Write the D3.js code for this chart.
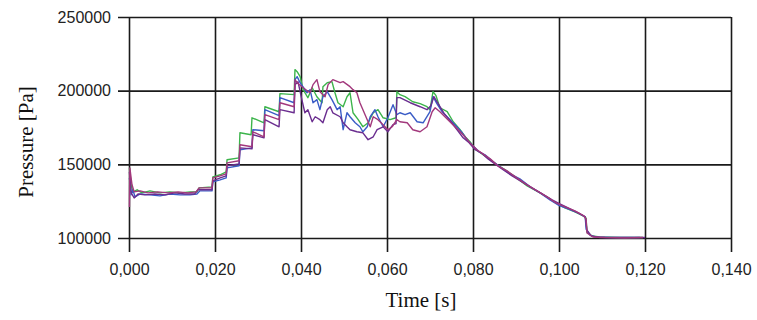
<!DOCTYPE html>
<html><head><meta charset="utf-8">
<script src="https://cdn.jsdelivr.net/npm/d3@7"></script>
<style>body{margin:0;background:#fff}svg{display:block}</style>
</head><body>
<svg id="c" width="757" height="320"></svg>
<script>
const xTicks = [0, 0.02, 0.04, 0.06, 0.08, 0.10, 0.12, 0.14];
const yTicks = [100000, 150000, 200000, 250000];
const xLabel = "Time [s]";
const yLabel = "Pressure [Pa]";
const seriesNames = ["green", "blue", "purple", "magenta"];
const seriesColors = ["#3cb44b", "#3a5cc6", "#6a2d8f", "#a2387c"];

// [time s, pressure Pa]
const greenData = [[0.0001,147600],[0.0005,136100],[0.0009,131300],[0.0019,132700],[0.0030,130600],[0.0049,132000],[0.0072,130600],[0.0095,131300],[0.0119,130600],[0.0142,131300],[0.0158,131300],[0.0163,134000],[0.0193,134700],[0.0195,141500],[0.0212,142900],[0.0226,144900],[0.0228,153100],[0.0256,154400],[0.0258,171400],[0.0284,170100],[0.0286,181600],[0.0314,178200],[0.0316,189100],[0.0349,185700],[0.0351,198000],[0.0384,197300],[0.0386,214300],[0.0391,212900],[0.0398,209500],[0.0405,200700],[0.0416,195200],[0.0426,202000],[0.0437,195900],[0.0449,191800],[0.0451,202700],[0.0461,205400],[0.0472,206100],[0.0479,198600],[0.0486,191800],[0.0498,189100],[0.0507,195900],[0.0514,198600],[0.0521,185000],[0.0533,180300],[0.0544,175500],[0.0556,178200],[0.0568,185000],[0.0579,187100],[0.0591,181600],[0.0607,180300],[0.0621,181600],[0.0623,199300],[0.0630,197300],[0.0642,195900],[0.0660,192500],[0.0677,191200],[0.0693,189100],[0.0700,187100],[0.0707,199300],[0.0714,196600],[0.0723,188400],[0.0740,185700],[0.0754,178900],[0.0770,173500],[0.0784,168000],[0.0793,165300],[0.0807,159900],[0.0821,157100],[0.0840,153100],[0.0856,149700],[0.0875,146300],[0.0898,141500],[0.0926,135400],[0.0956,130600],[0.0979,126500],[0.0996,123100],[0.1014,120400],[0.1037,117700],[0.1056,115000],[0.1063,113600],[0.1065,104100],[0.1077,101400],[0.1095,100700],[0.1142,100300],[0.1195,100300]];

const blueData = [[0.0001,140800],[0.0005,129300],[0.0009,132700],[0.0014,127900],[0.0026,129900],[0.0049,129300],[0.0072,128600],[0.0095,129900],[0.0119,129300],[0.0142,129300],[0.0158,129900],[0.0165,132000],[0.0193,132000],[0.0195,138100],[0.0212,139500],[0.0226,140800],[0.0228,147600],[0.0256,149000],[0.0258,159900],[0.0286,161200],[0.0288,173500],[0.0314,172800],[0.0316,187100],[0.0349,183000],[0.0351,195300],[0.0384,191800],[0.0386,207500],[0.0391,209500],[0.0398,205400],[0.0414,198600],[0.0421,200700],[0.0428,191800],[0.0437,193900],[0.0444,187100],[0.0451,195900],[0.0461,199300],[0.0472,193900],[0.0484,187100],[0.0491,189100],[0.0498,173500],[0.0507,185000],[0.0514,182300],[0.0526,178200],[0.0537,175500],[0.0544,172100],[0.0554,175500],[0.0561,182300],[0.0572,187100],[0.0579,182300],[0.0591,175500],[0.0602,181600],[0.0614,190500],[0.0623,183700],[0.0630,185000],[0.0642,183700],[0.0654,185000],[0.0670,178900],[0.0684,178200],[0.0700,185700],[0.0707,195900],[0.0716,191200],[0.0728,185700],[0.0742,181600],[0.0758,176900],[0.0775,171400],[0.0788,166000],[0.0800,162600],[0.0814,158500],[0.0828,156500],[0.0844,152400],[0.0863,148300],[0.0886,143500],[0.0909,140100],[0.0933,134700],[0.0956,130600],[0.0979,125900],[0.0998,122400],[0.1021,119700],[0.1044,117000],[0.1061,114300],[0.1063,106100],[0.1072,102000],[0.1084,100700],[0.1119,100300],[0.1188,100300]];

const purpleData = [[0.0001,144900],[0.0005,130600],[0.0012,127200],[0.0021,129900],[0.0037,129300],[0.0060,129900],[0.0084,129300],[0.0107,130600],[0.0130,129900],[0.0153,129900],[0.0160,132700],[0.0193,132700],[0.0195,138800],[0.0212,140800],[0.0226,142200],[0.0228,149000],[0.0256,150300],[0.0258,161200],[0.0286,160500],[0.0288,170100],[0.0314,168000],[0.0316,180300],[0.0349,175500],[0.0351,187100],[0.0384,185000],[0.0386,204100],[0.0393,206100],[0.0402,193900],[0.0409,185000],[0.0416,187100],[0.0426,178900],[0.0433,182300],[0.0444,180300],[0.0451,178200],[0.0461,187100],[0.0468,189100],[0.0474,185000],[0.0491,182300],[0.0498,178200],[0.0507,175500],[0.0514,173500],[0.0530,172100],[0.0544,171400],[0.0556,166700],[0.0568,168700],[0.0577,173500],[0.0591,175500],[0.0602,172100],[0.0614,176900],[0.0621,177600],[0.0623,195300],[0.0630,195300],[0.0654,191800],[0.0677,189100],[0.0693,187100],[0.0702,189800],[0.0709,195900],[0.0719,191200],[0.0733,184400],[0.0747,179600],[0.0763,173500],[0.0777,168000],[0.0791,164600],[0.0805,159900],[0.0819,157800],[0.0835,153700],[0.0851,150300],[0.0870,146300],[0.0891,142200],[0.0914,138100],[0.0937,134000],[0.0961,129900],[0.0984,125900],[0.1002,123100],[0.1026,119700],[0.1049,116300],[0.1061,114300],[0.1065,105400],[0.1075,101400],[0.1095,100300],[0.1165,100300],[0.1200,100300]];

const magentaData = [[0.0001,121100],[0.0002,147600],[0.0007,136100],[0.0012,131300],[0.0026,132000],[0.0044,130600],[0.0067,131300],[0.0091,130600],[0.0114,131300],[0.0137,130600],[0.0156,131300],[0.0163,134000],[0.0193,134000],[0.0195,140800],[0.0212,142200],[0.0226,143500],[0.0228,151000],[0.0256,152400],[0.0258,163300],[0.0286,161900],[0.0288,172100],[0.0314,168700],[0.0316,183700],[0.0349,180300],[0.0351,191800],[0.0384,189100],[0.0386,207500],[0.0391,205400],[0.0405,202000],[0.0421,198600],[0.0428,204100],[0.0437,207500],[0.0444,199300],[0.0456,195900],[0.0463,204100],[0.0474,207500],[0.0491,205400],[0.0498,206100],[0.0514,202700],[0.0521,200700],[0.0530,198600],[0.0537,191800],[0.0544,187100],[0.0554,180300],[0.0561,175500],[0.0568,182300],[0.0579,180300],[0.0591,176900],[0.0602,173500],[0.0612,175500],[0.0623,180300],[0.0630,178900],[0.0647,178200],[0.0660,173500],[0.0677,172100],[0.0693,175500],[0.0705,185700],[0.0712,188400],[0.0723,185700],[0.0737,181600],[0.0751,177600],[0.0768,172800],[0.0781,168700],[0.0795,163900],[0.0809,159900],[0.0823,157100],[0.0840,153700],[0.0858,149000],[0.0879,145600],[0.0902,140800],[0.0926,136100],[0.0949,132000],[0.0972,127900],[0.0993,123800],[0.1014,121100],[0.1037,118400],[0.1058,115000],[0.1063,112900],[0.1065,103400],[0.1079,100700],[0.1107,100300],[0.1153,100000],[0.1195,100300]];

const allSeries = [greenData, blueData, purpleData, magentaData];

const svg = d3.select("#c");
const x = d3.scaleLinear().domain([0, 0.14]).range([129, 731]);
const y = d3.scaleLinear().domain([100000, 250000]).range([238, 17]);
const fmtX = d => d3.format(".3f")(d).replace(".", ",");

const gx = svg.append("g").attr("transform", "translate(0,252)")
  .call(d3.axisBottom(x).tickValues(xTicks).tickFormat(fmtX).tickSizeInner(-235).tickSizeOuter(0).tickPadding(12));
gx.select(".domain").remove();
gx.selectAll(".tick line").attr("stroke", "#1a1a1a").attr("stroke-width", 1.6);
gx.selectAll(".tick text").attr("font-family", "Liberation Sans, Arial, sans-serif").attr("font-size", 16).attr("fill", "#222");

const gy = svg.append("g").attr("transform", "translate(118,0)")
  .call(d3.axisLeft(y).tickValues(yTicks).tickFormat(d3.format("d")).tickSizeInner(-613).tickSizeOuter(0).tickPadding(7));
gy.select(".domain").remove();
gy.selectAll(".tick line").attr("stroke", "#1a1a1a").attr("stroke-width", 1.6);
gy.selectAll(".tick text").attr("font-family", "Liberation Sans, Arial, sans-serif").attr("font-size", 16).attr("fill", "#222");

const line = d3.line().x(d => x(d[0])).y(d => y(d[1]));
svg.append("g").selectAll("path").data(allSeries).join("path")
  .attr("d", line).attr("fill", "none")
  .attr("stroke", (d, i) => seriesColors[i]).attr("stroke-width", 1.4)
  .attr("stroke-linejoin", "round");

svg.append("text").attr("x", 421).attr("y", 307).attr("text-anchor", "middle")
  .attr("font-family", "Liberation Serif, Times New Roman, serif").attr("font-size", 21).attr("fill", "#111").text(xLabel);
svg.append("text").attr("transform", "translate(33,142) rotate(-90)").attr("text-anchor", "middle")
  .attr("font-family", "Liberation Serif, Times New Roman, serif").attr("font-size", 21).attr("fill", "#111").text(yLabel);
</script>
</body></html>
